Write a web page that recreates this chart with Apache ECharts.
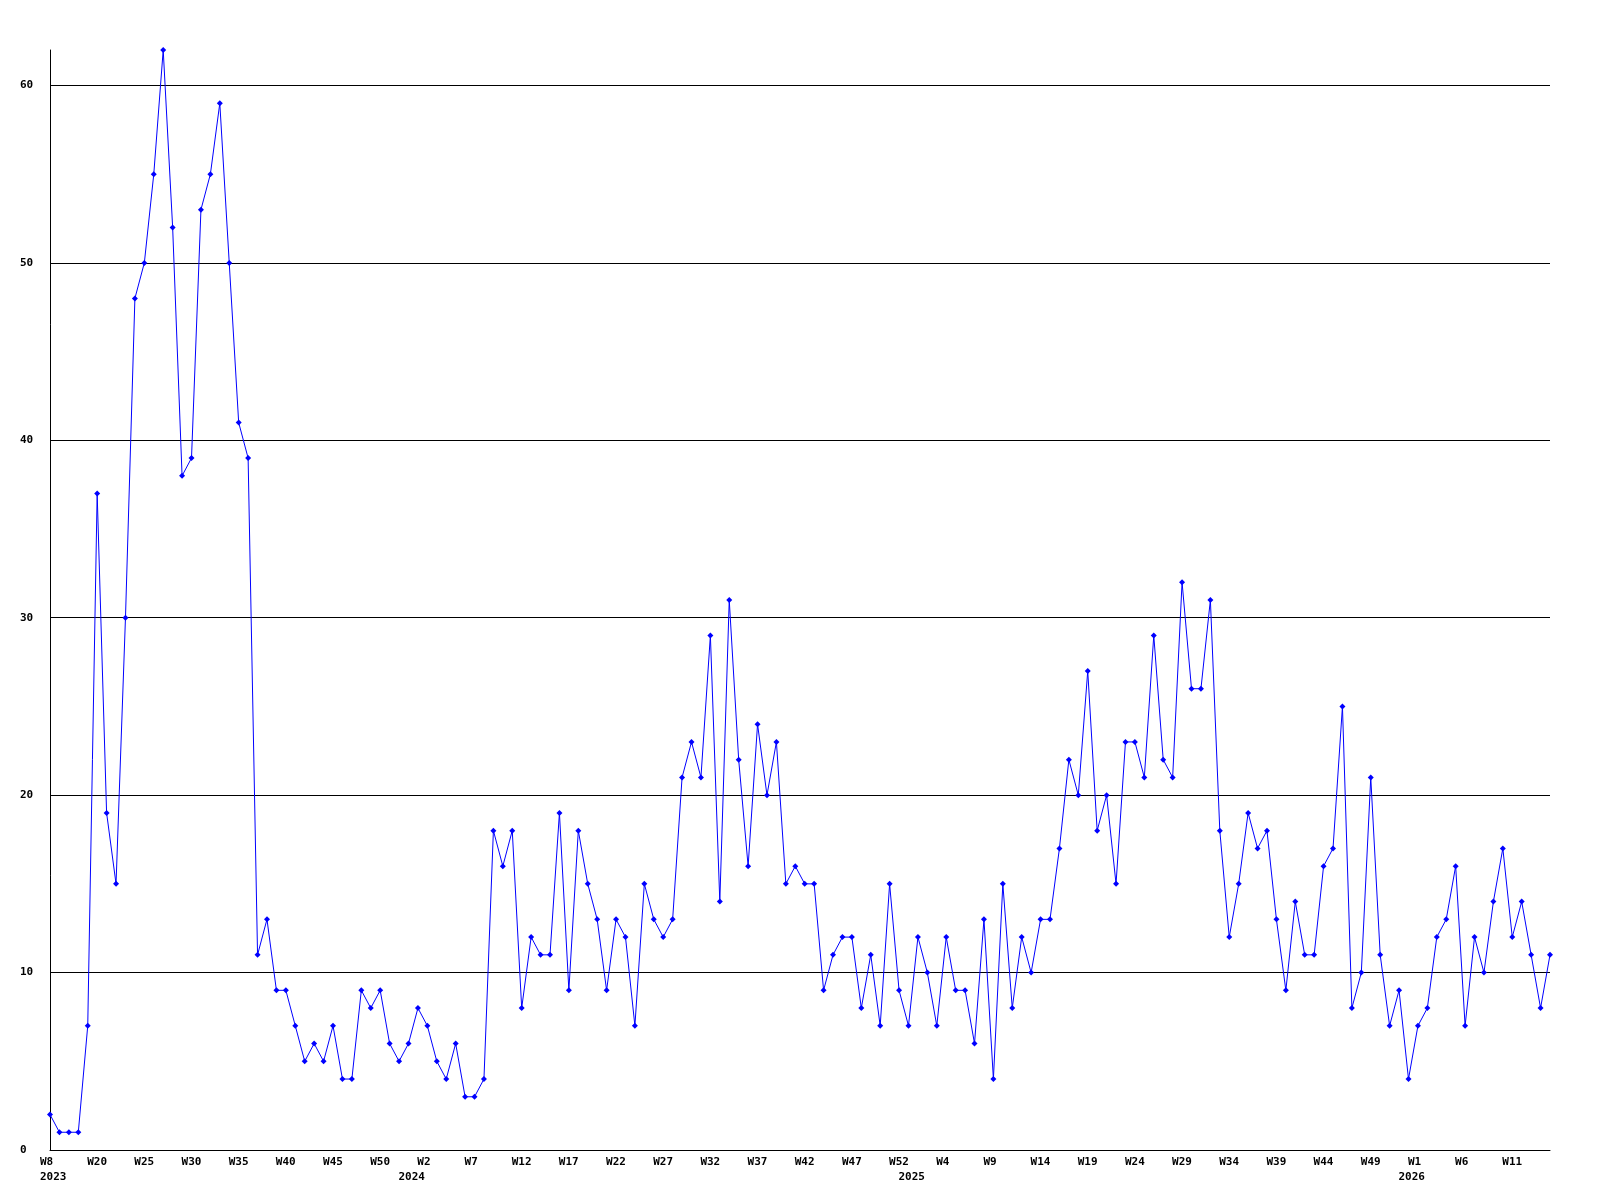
<!DOCTYPE html>
<html>
<head>
<meta charset="utf-8">
<script src="https://cdn.jsdelivr.net/npm/echarts@6/dist/echarts.min.js"></script>
<style>
html,body{margin:0;padding:0;background:#fff;}
#chart{width:1600px;height:1200px;}
</style>
</head>
<body>
<div id="chart"></div>
<script>
// Week categories (year-week), one point per week
const weeks2023 = ["2023-W08","2023-W16","2023-W17","2023-W18","2023-W19","2023-W20","2023-W21","2023-W22","2023-W23","2023-W24","2023-W25","2023-W26","2023-W27","2023-W28","2023-W29","2023-W30","2023-W31","2023-W32","2023-W33","2023-W34","2023-W35","2023-W36","2023-W37","2023-W38","2023-W39","2023-W40","2023-W41","2023-W42","2023-W43","2023-W44","2023-W45","2023-W46","2023-W47","2023-W48","2023-W49","2023-W50","2023-W51","2023-W52"];
const weeks2024 = ["2024-W00","2024-W01","2024-W02","2024-W03","2024-W04","2024-W05","2024-W06","2024-W07","2024-W08","2024-W09","2024-W10","2024-W11","2024-W12","2024-W13","2024-W14","2024-W15","2024-W16","2024-W17","2024-W18","2024-W19","2024-W20","2024-W21","2024-W22","2024-W23","2024-W24","2024-W25","2024-W26","2024-W27","2024-W28","2024-W29","2024-W30","2024-W31","2024-W32","2024-W33","2024-W34","2024-W35","2024-W36","2024-W37","2024-W38","2024-W39","2024-W40","2024-W41","2024-W42","2024-W43","2024-W44","2024-W45","2024-W46","2024-W47","2024-W48","2024-W49","2024-W50","2024-W51","2024-W52"];
const weeks2025 = ["2025-W00","2025-W01","2025-W02","2025-W03","2025-W04","2025-W05","2025-W06","2025-W07","2025-W08","2025-W09","2025-W10","2025-W11","2025-W12","2025-W13","2025-W14","2025-W15","2025-W16","2025-W17","2025-W18","2025-W19","2025-W20","2025-W21","2025-W22","2025-W23","2025-W24","2025-W25","2025-W26","2025-W27","2025-W28","2025-W29","2025-W30","2025-W31","2025-W32","2025-W33","2025-W34","2025-W35","2025-W36","2025-W37","2025-W38","2025-W39","2025-W40","2025-W41","2025-W42","2025-W43","2025-W44","2025-W45","2025-W46","2025-W47","2025-W48","2025-W49","2025-W50","2025-W51","2025-W52"];
const weeks2026 = ["2026-W00","2026-W01","2026-W02","2026-W03","2026-W04","2026-W05","2026-W06","2026-W07","2026-W08","2026-W09","2026-W10","2026-W11","2026-W12","2026-W13","2026-W14","2026-W15"];
const categories = [].concat(weeks2023, weeks2024, weeks2025, weeks2026);

// Weekly counts
const values = [
  2,1,1,1,7,37,19,15,30,48,
  50,55,62,52,38,39,53,55,59,50,
  41,39,11,13,9,9,7,5,6,5,
  7,4,4,9,8,9,6,5,6,8,
  7,5,4,6,3,3,4,18,16,18,
  8,12,11,11,19,9,18,15,13,9,
  13,12,7,15,13,12,13,21,23,21,
  29,14,31,22,16,24,20,23,15,16,
  15,15,9,11,12,12,8,11,7,15,
  9,7,12,10,7,12,9,9,6,13,
  4,15,8,12,10,13,13,17,22,20,
  27,18,20,15,23,23,21,29,22,21,
  32,26,26,31,18,12,15,19,17,18,
  13,9,14,11,11,16,17,25,8,10,
  21,11,7,9,4,7,8,12,13,16,
  7,12,10,14,17,12,14,11,8,11
];

// Y tick labels
const yTicks = [0,10,20,30,40,50,60];
const yMax = 62;

const FONT = '"DejaVu Sans Mono", "Liberation Mono", monospace';

function weekLabel(cat){ return 'W' + parseInt(cat.split('-W')[1], 10); }
function yearOf(cat){ return cat.split('-W')[0]; }
function isYearStart(i){ return i === 0 || yearOf(categories[i]) !== yearOf(categories[i-1]); }

const chart = echarts.init(document.getElementById('chart'), null, {renderer:'canvas'});
chart.setOption({
  backgroundColor: '#ffffff',
  animation: false,
  grid: { left: 50, right: 50, top: 50, bottom: 50 },
  xAxis: [{
    type: 'category',
    data: categories,
    boundaryGap: false,
    position: 'bottom',
    axisLine: { show: true, lineStyle: { color: '#000', width: 1 } },
    axisTick: { show: false },
    splitLine: { show: false },
    axisLabel: {
      interval: function(i){ return i % 5 === 0; },
      margin: 6,
      formatter: function(v){ return '{w|' + weekLabel(v) + '}'; },
      rich: { w: { width: 20, align: 'left', fontFamily: FONT, fontWeight: 'bold', fontSize: 11, lineHeight: 12, color: '#000' } }
    }
  },{
    type: 'category',
    data: categories,
    boundaryGap: false,
    position: 'bottom',
    offset: 15,
    axisLine: { show: false },
    axisTick: { show: false },
    splitLine: { show: false },
    axisLabel: {
      interval: function(i){ return isYearStart(i); },
      margin: 6,
      formatter: function(v){ return '{y|' + yearOf(v) + '}'; },
      rich: { y: { width: 20, align: 'left', fontFamily: FONT, fontWeight: 'bold', fontSize: 11, lineHeight: 12, color: '#000' } }
    }
  }],
  yAxis: {
    type: 'value',
    min: 0,
    max: yMax,
    interval: 10,
    axisLine: { show: true, lineStyle: { color: '#000', width: 1 } },
    axisTick: { show: false },
    splitLine: { show: true, showMaxLine: false, lineStyle: { color: '#000', width: 1 } },
    axisLabel: {
      showMaxLabel: false,
      align: 'left',
      margin: 30,
      fontFamily: FONT,
      fontWeight: 'bold',
      fontSize: 11,
      color: '#000',
      formatter: function(v){ return yTicks.indexOf(v) >= 0 ? String(v) : ''; }
    }
  },
  series: [{
    type: 'line',
    xAxisIndex: 0,
    data: values,
    showSymbol: true,
    showAllSymbol: true,
    symbol: 'diamond',
    symbolSize: 6,
    itemStyle: { color: '#0000ff' },
    lineStyle: { color: '#0000ff', width: 1 }
  }]
});
</script>
</body>
</html>
